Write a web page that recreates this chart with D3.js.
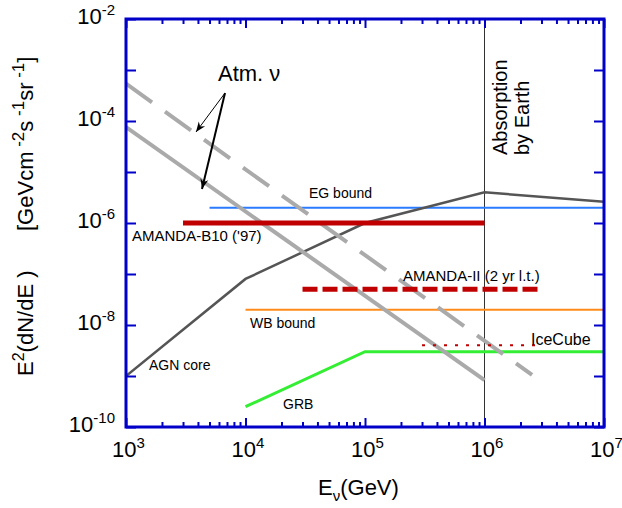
<!DOCTYPE html>
<html>
<head>
<meta charset="utf-8">
<script src="https://cdn.jsdelivr.net/npm/d3@7"></script>
<style>
  body { margin: 0; background: #fff; }
  text { font-family: "Liberation Sans", Arial, sans-serif; fill: #000; }
</style>
</head>
<body>
<script>
// flux curves, [energy GeV, E^2 dN/dE]
const atmSolid = [[1e3, 7.6e-5], [1e6, 8.3e-10]];
const atmDashed = [[1e3, 5.4e-4], [2.5e6, 1.05e-9]];
const agnCore = [[1e3, 1e-9], [1e4, 8e-8], [1e5, 1e-6], [1e6, 4e-6], [1e7, 2.6e-6]];
const grb = [[1e4, 2.5e-10], [1e5, 3e-9], [1e7, 3e-9]];
const egBound = [[5e3, 2e-6], [1e7, 2e-6]];
const wbBound = [[1e4, 2e-8], [1e7, 2e-8]];
const amandaB10 = [[3e3, 1e-6], [1e6, 1e-6]];
const amandaII = [[3e4, 5e-8], [3e6, 5e-8]];
const iceCube = [[3e5, 4e-9], [2.8e6, 4e-9]];
const absorptionE = 1e6;

const xMajor = [1e3, 1e4, 1e5, 1e6, 1e7];
const yMajor = [1e-10, 1e-9, 1e-8, 1e-7, 1e-6, 1e-5, 1e-4, 1e-3, 1e-2];
const yLabels = [-10, -8, -6, -4, -2];

const width = 622, height = 508;
const pL = 126, pR = 604, pT = 19, pB = 427;
const blue = "#0000c8";

const x = d3.scaleLog().domain([1e3, 1e7]).range([pL, pR]);
const y = d3.scaleLog().domain([1e-10, 1e-2]).range([pB, pT]);

const svg = d3.select("body").append("svg")
  .attr("width", width)
  .attr("height", height);

const defs = svg.append("defs");
defs.append("clipPath").attr("id", "plot")
  .append("rect").attr("x", pL).attr("y", pT)
  .attr("width", pR - pL).attr("height", pB - pT);
defs.append("marker").attr("id", "head")
  .attr("viewBox", "0 0 10 10").attr("refX", 10).attr("refY", 5)
  .attr("markerWidth", 10).attr("markerHeight", 10)
  .attr("markerUnits", "userSpaceOnUse").attr("orient", "auto")
  .append("path").attr("d", "M0,1 L10,5 L0,9 L3,5 Z").attr("fill", "#000");

const line = d3.line().x(d => x(d[0])).y(d => y(d[1]));
const g = svg.append("g").attr("clip-path", "url(#plot)");

function curve(data, color, w, dash) {
  g.append("path")
    .attr("d", line(data))
    .attr("fill", "none")
    .attr("stroke", color)
    .attr("stroke-width", w)
    .attr("stroke-dasharray", dash || null);
}

// absorption line
g.append("line")
  .attr("x1", x(absorptionE)).attr("x2", x(absorptionE))
  .attr("y1", pT).attr("y2", pB)
  .attr("stroke", "#333").attr("stroke-width", 1);

curve(wbBound, "#ff8c1a", 2);
curve(egBound, "#2a7bff", 2);
curve(grb, "#33ee33", 3);
curve(agnCore, "#555", 2.5);
curve(atmSolid, "#aaa", 4);
curve(atmDashed, "#aaa", 4, "32,16");
curve(amandaB10, "#c00000", 5);
curve(amandaII, "#c00000", 5, "15,5");
curve(iceCube, "#c00000", 2, "3,8");

// axes, ticks pointing inward
let xMinor = [];
for (let d = 1e3; d < 1e7; d *= 10) {
  for (let k = 2; k < 10; k++) xMinor.push(d * k);
}

function styleAxis(sel) {
  sel.select(".domain").remove();
  sel.selectAll("line").attr("stroke", blue).attr("stroke-width", 2);
}

svg.append("g").attr("transform", `translate(0,${pB})`)
  .call(d3.axisBottom(x).tickValues(xMinor).tickSize(-5).tickFormat(""))
  .call(styleAxis);
svg.append("g").attr("transform", `translate(0,${pB})`)
  .call(d3.axisBottom(x).tickValues(xMajor).tickSize(-9).tickFormat(""))
  .call(styleAxis);
svg.append("g").attr("transform", `translate(0,${pT})`)
  .call(d3.axisTop(x).tickValues(xMinor).tickSize(-5).tickFormat(""))
  .call(styleAxis);
svg.append("g").attr("transform", `translate(0,${pT})`)
  .call(d3.axisTop(x).tickValues(xMajor).tickSize(-9).tickFormat(""))
  .call(styleAxis);
svg.append("g").attr("transform", `translate(${pL},0)`)
  .call(d3.axisLeft(y).tickValues(yMajor).tickSize(-10).tickFormat(""))
  .call(styleAxis);
svg.append("g").attr("transform", `translate(${pR},0)`)
  .call(d3.axisRight(y).tickValues(yMajor).tickSize(-10).tickFormat(""))
  .call(styleAxis);

svg.append("rect")
  .attr("x", pL).attr("y", pT)
  .attr("width", pR - pL).attr("height", pB - pT)
  .attr("fill", "none").attr("stroke", blue).attr("stroke-width", 3);

// tick labels with superscript exponents
xMajor.forEach(v => {
  const t = svg.append("text")
    .attr("x", x(v) - 14).attr("y", pB + 30)
    .attr("font-size", 22);
  t.append("tspan").text("10");
  t.append("tspan").attr("dy", -9).attr("font-size", 15).text(Math.round(Math.log10(v)));
});

yLabels.forEach(p => {
  const t = svg.append("text")
    .attr("x", 115).attr("y", y(Math.pow(10, p)) + 5)
    .attr("text-anchor", "end")
    .attr("font-size", 22);
  t.append("tspan").text("10");
  t.append("tspan").attr("dy", -9).attr("font-size", 15).text("-" + Math.abs(p));
});

// axis titles
const xt = svg.append("text").attr("x", 318).attr("y", 495).attr("font-size", 22);
xt.append("tspan").text("E");
xt.append("tspan").attr("dy", 6).attr("font-size", 15).text("ν");
xt.append("tspan").attr("dy", -6).text("(GeV)");

const yt1 = svg.append("text")
  .attr("transform", "translate(33,376) rotate(-90)")
  .attr("font-size", 22);
yt1.append("tspan").text("E");
yt1.append("tspan").attr("dy", -9).attr("font-size", 16).text("2");
yt1.append("tspan").attr("dy", 9).text("(dN/dE )");

const yt2 = svg.append("text")
  .attr("transform", "translate(33,231) rotate(-90)")
  .attr("font-size", 22);
yt2.append("tspan").text("[GeVcm");
yt2.append("tspan").attr("dy", -9).attr("font-size", 17).text(" -2");
yt2.append("tspan").attr("dy", 9).text("s");
yt2.append("tspan").attr("dy", -9).attr("font-size", 17).text(" -1");
yt2.append("tspan").attr("dy", 9).text("sr");
yt2.append("tspan").attr("dy", -9).attr("font-size", 17).text(" -1");
yt2.append("tspan").attr("dy", 9).text("]");

// curve labels
function label(txt, px, py, size) {
  svg.append("text").attr("x", px).attr("y", py).attr("font-size", size).text(txt);
}
label("EG bound", 309, 198, 14);
label("AMANDA-B10 ('97)", 132, 241, 15);
label("AMANDA-II (2 yr l.t.)", 403, 281, 15);
label("WB bound", 250, 328, 14);
label("IceCube", 531, 345, 16);
label("AGN core", 149, 370, 14);
label("GRB", 283, 409, 14);
label("Atm. ν", 218, 81, 22);

svg.append("text").attr("transform", "translate(507,155) rotate(-90)")
  .attr("font-size", 20).text("Absorption");
svg.append("text").attr("transform", "translate(529,155) rotate(-90)")
  .attr("font-size", 20).text("by Earth");

// arrows to the atmospheric curves
svg.append("line")
  .attr("x1", 225).attr("y1", 93).attr("x2", 196).attr("y2", 132)
  .attr("stroke", "#000").attr("stroke-width", 1)
  .attr("marker-end", "url(#head)");
svg.append("line")
  .attr("x1", 225).attr("y1", 93).attr("x2", 202).attr("y2", 189)
  .attr("stroke", "#000").attr("stroke-width", 2)
  .attr("marker-end", "url(#head)");
</script>
</body>
</html>
